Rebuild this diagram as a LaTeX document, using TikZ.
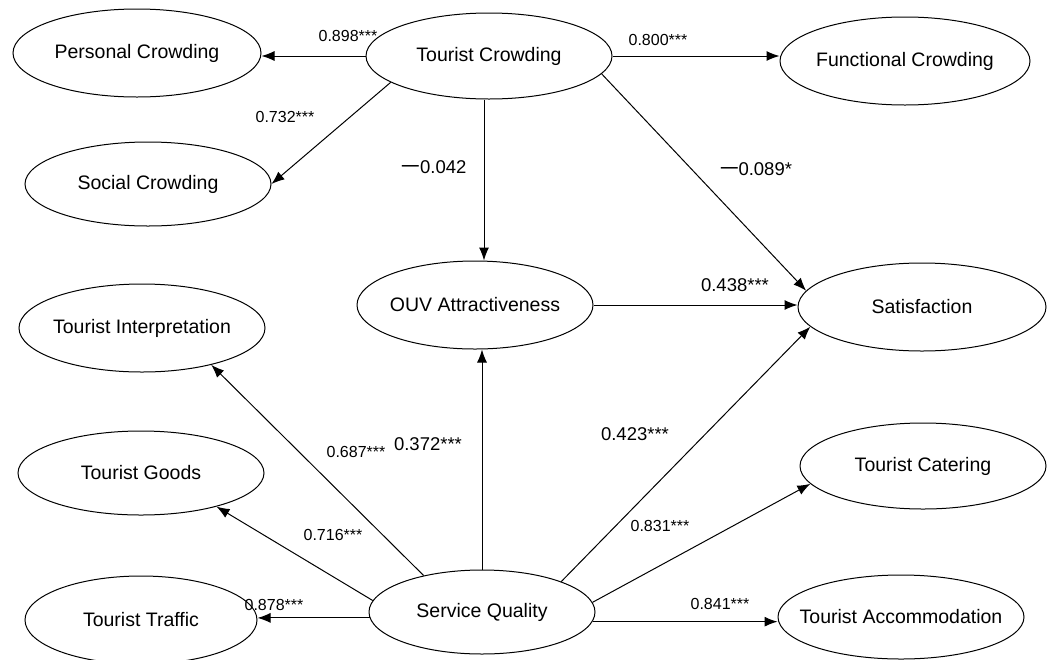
\documentclass[tikz,border=0pt]{standalone}
\usepackage{fontspec}
\setmainfont{Liberation Sans}
\newfontfamily\cjk{Noto Sans CJK SC}
\usetikzlibrary{shapes.geometric,arrows.meta}
\begin{document}
\begin{tikzpicture}[x=0.5pt,y=-0.5pt,line width=0.5pt]
    \tikzstyle{construct} = [draw,ellipse,inner xsep=-40pt,inner ysep=0pt,
                             font=\fontsize{9.75}{11}\selectfont]
    \tikzstyle{link} = [-{Latex[length=6.5pt,width=5pt]}]
    \tikzstyle{coef} = [font=\fontsize{8}{9}\selectfont,inner sep=0pt]
    \tikzstyle{coefbig} = [font=\fontsize{9.25}{10}\selectfont,inner sep=0pt]

    \useasboundingbox (0,0) rectangle (1054,659);

    % Crowding side
    \node[construct,minimum width=124pt,minimum height=44pt] (pc) at (137,53) {Personal Crowding};
    \node[construct,minimum width=123pt,minimum height=43pt] (tc) at (489,56) {Tourist Crowding};
    \node[construct,minimum width=125pt,minimum height=44pt] (fc) at (905,61) {Functional Crowding};
    \node[construct,minimum width=123pt,minimum height=42pt] (sc) at (148,184) {Social Crowding};

    % Middle
    \node[construct,minimum width=118pt,minimum height=44pt] (ouv) at (475,305) {OUV Attractiveness};
    \node[construct,minimum width=124pt,minimum height=44pt] (sat) at (922,307) {Satisfaction};

    % Service side
    \node[construct,minimum width=123pt,minimum height=44pt] (ti) at (142,328) {Tourist Interpretation};
    \node[construct,minimum width=123pt,minimum height=42pt] (tg) at (141,473) {Tourist Goods};
    \node[construct,minimum width=116pt,minimum height=44pt] (tt) at (141,620) {Tourist Traffic};
    \node[construct,minimum width=113pt,minimum height=42pt] (sq) at (482,612) {Service Quality};
    \node[construct,minimum width=123pt,minimum height=43pt] (tcat) at (923,466) {Tourist Catering};
    \node[construct,minimum width=123pt,minimum height=42pt] (tacc) at (901,617) {Tourist Accommodation};

    % Paths
    \draw[link] (tc.west) -- (tc.west -| pc.east);
    \draw[link] (tc.east) -- (tc.east -| fc.west);
    \draw[link] (tc.195) -- (sc.east);
    \draw[link] ([xshift=-2.5pt]tc.south) -- ([xshift=-2.5pt]tc.south |- ouv.north);
    \draw[link] (tc.351) -- (sat.172);
    \draw[link] (ouv.east) -- (ouv.east -| sat.west);
    \draw[link] (sq.north) -- (sq.north |- ouv.south);
    \draw[link] (sq.21) -- (sat.190);
    \draw[link] (sq.148) -- (ti.332);
    \draw[link] (sq.174) -- (tg.336);
    \draw[link] (sq.183) -- (sq.183 -| tt.east);
    \draw[link] (sq.5) -- (tcat.189);
    \draw[link] (sq.355) -- (sq.355 -| tacc.west);

    % Coefficients
    \node[coef] (c898) at (348,36) {0.898***};
    \node[coef] (c800) at (658,40) {0.800***};
    \node[coef] (c732) at (285,117) {0.732***};
    \node[coefbig] (c042) at (434,167) {{\cjk 一}0.042};
    \node[coefbig] (c089) at (756,169) {{\cjk 一}0.089*};
    \node[coefbig] (c438) at (735,285) {0.438***};
    \node[coefbig] (c372) at (428,444) {0.372***};
    \node[coef] (c687) at (356,452) {0.687***};
    \node[coefbig] (c423) at (635,434) {0.423***};
    \node[coef] (c716) at (333,535) {0.716***};
    \node[coef] (c831) at (660,526) {0.831***};
    \node[coef] (c878) at (274,605) {0.878***};
    \node[coef] (c841) at (720,604) {0.841***};
\end{tikzpicture}
\end{document}
